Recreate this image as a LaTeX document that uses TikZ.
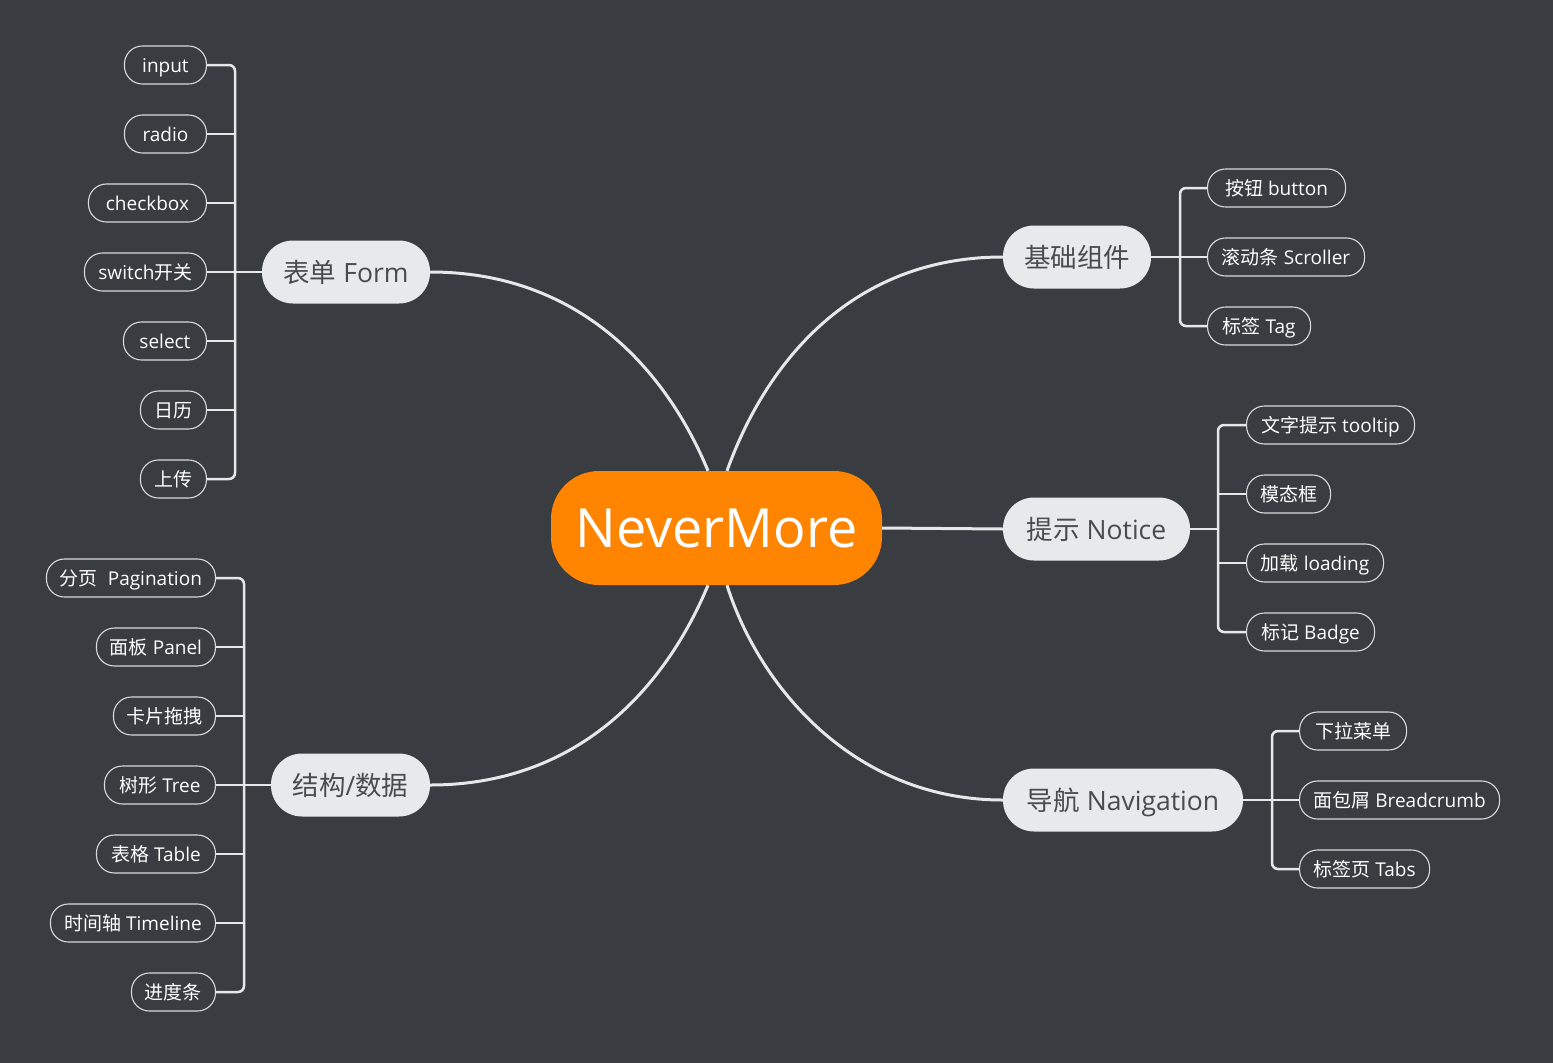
\documentclass[tikz,border=0pt]{standalone}
\usepackage{fontspec}
\setmainfont{Open Sans}
\newfontfamily\cjk{Noto Sans CJK SC}
\usetikzlibrary{calc}
\newcommand\zh[1]{{\cjk #1}}
\definecolor{bgcol}{HTML}{393C41}
\definecolor{orangecol}{HTML}{FF8400}
\definecolor{mainfill}{HTML}{E8E9EB}
\definecolor{maintext}{HTML}{4A4B4E}
\definecolor{linecol}{HTML}{E6E7E9}
\definecolor{leafline}{HTML}{D9DADC}
\tikzset{
  leaf/.style={draw=leafline, line width=1.1pt, rounded corners=18pt, minimum height=38pt,
    inner xsep=8pt, inner ysep=0pt, text=white, font=\fontsize{19}{21}\selectfont,
    text height=17.5pt, text depth=2pt},
  mainnode/.style={fill=mainfill, rounded corners=31pt, minimum height=63pt, inner xsep=10pt,
    inner ysep=0pt, text=maintext, font=\fontsize{26.5}{30}\selectfont,
    text height=25pt, text depth=3.5pt},
  centernode/.style={fill=orangecol, rounded corners=48pt, minimum width=331pt, minimum height=114pt,
    inner sep=0pt, text=white, font=\fontsize{54}{60}\selectfont, text height=44pt, text depth=6pt},
  curvecon/.style={draw=linecol, line width=3pt},
  leafcon/.style={draw=linecol, line width=2.5pt, rounded corners=6pt},
}
\begin{document}
\begin{tikzpicture}[x=1pt,y=-1pt]
\fill[bgcol] (0,0) rectangle (1553,1063);
\useasboundingbox (0,0) rectangle (1553,1063);

% center
\node[centernode] (c) at (716.5,528) {NeverMore};

% main nodes
\node[mainnode, minimum width=168pt] (form) at (346,272) {\zh{表单} Form};
\node[mainnode, minimum width=159pt] (struct) at (350.5,785) {\zh{结构}/\zh{数据}};
\node[mainnode, minimum width=148pt] (base) at (1077,257) {\zh{基础组件}};
\node[mainnode, minimum width=187pt] (notice) at (1096.5,529) {\zh{提示} Notice};
\node[mainnode, minimum width=240pt] (nav) at (1123,800) {\zh{导航} Navigation};

% Form leaves
\node[leaf, anchor=east, minimum width=82pt] (f1) at (207,65) {input};
\node[leaf, anchor=east, minimum width=82pt] (f2) at (207,134) {radio};
\node[leaf, anchor=east, minimum width=118pt] (f3) at (207,203) {checkbox};
\node[leaf, anchor=east, minimum width=122pt] (f4) at (207,272) {switch\zh{开关}};
\node[leaf, anchor=east, minimum width=83pt] (f5) at (207,341) {select};
\node[leaf, anchor=east, minimum width=66pt] (f6) at (207,410) {\zh{日历}};
\node[leaf, anchor=east, minimum width=66pt] (f7) at (207,479) {\zh{上传}};
\coordinate (ft) at (235,272);

% Structure leaves
\node[leaf, anchor=east, minimum width=169pt] (s1) at (216,578) {\zh{分页}\ \ Pagination};
\node[leaf, anchor=east, minimum width=119pt] (s2) at (216,647) {\zh{面板} Panel};
\node[leaf, anchor=east, minimum width=102pt] (s3) at (216,716) {\zh{卡片拖拽}};
\node[leaf, anchor=east, minimum width=111pt] (s4) at (216,785) {\zh{树形} Tree};
\node[leaf, anchor=east, minimum width=119pt] (s5) at (216,854) {\zh{表格} Table};
\node[leaf, anchor=east, minimum width=165pt] (s6) at (216,923) {\zh{时间轴} Timeline};
\node[leaf, anchor=east, minimum width=84pt] (s7) at (216,992) {\zh{进度条}};
\coordinate (st) at (244,785);

% Base leaves
\node[leaf, anchor=west, minimum width=138pt] (b1) at (1207,188) {\zh{按钮} button};
\node[leaf, anchor=west, minimum width=157pt] (b2) at (1207,257) {\zh{滚动条} Scroller};
\node[leaf, anchor=west, minimum width=103pt] (b3) at (1207,326) {\zh{标签} Tag};
\coordinate (bt) at (1180,257);

% Notice leaves
\node[leaf, anchor=west, minimum width=168pt] (n1) at (1246,425) {\zh{文字提示} tooltip};
\node[leaf, anchor=west, minimum width=84pt] (n2) at (1246,494) {\zh{模态框}};
\node[leaf, anchor=west, minimum width=137pt] (n3) at (1246,563) {\zh{加载} loading};
\node[leaf, anchor=west, minimum width=128pt] (n4) at (1246,632) {\zh{标记} Badge};
\coordinate (nt) at (1218,529);

% Nav leaves
\node[leaf, anchor=west, minimum width=107pt] (v1) at (1299,731) {\zh{下拉菜单}};
\node[leaf, anchor=west, minimum width=200pt] (v2) at (1299,800) {\zh{面包屑} Breadcrumb};
\node[leaf, anchor=west, minimum width=130pt] (v3) at (1299,869) {\zh{标签页} Tabs};
\coordinate (vt) at (1272,800);

% curves from center
\draw[curvecon] ($(c.north)+(-8.5,0)$) .. controls ($(c.north)+(-50,-100)$) and ($(form.east)+(150,0)$) .. (form.east);
\draw[curvecon] ($(c.north)+(10.5,0)$) .. controls ($(c.north)+(50,-110)$) and ($(base.west)+(-150,0)$) .. (base.west);
\draw[curvecon] ($(c.south)+(-8.5,0)$) .. controls ($(c.south)+(-50,100)$) and ($(struct.east)+(150,0)$) .. (struct.east);
\draw[curvecon] ($(c.south)+(10.5,0)$) .. controls ($(c.south)+(42,100)$) and ($(nav.west)+(-150,0)$) .. (nav.west);
\draw[curvecon] (c.east) -- (notice.west);

% Form connectors
\draw[leafcon] (form.west) -- (ft);
\draw[leafcon] (f1.east) -| (ft);
\draw[leafcon] (f7.east) -| (ft);
\foreach \n in {f2,f3,f4,f5,f6} \draw[leafcon] (\n.east) -- (\n.east -| ft);

% Structure connectors
\draw[leafcon] (struct.west) -- (st);
\draw[leafcon] (s1.east) -| (st);
\draw[leafcon] (s7.east) -| (st);
\foreach \n in {s2,s3,s4,s5,s6} \draw[leafcon] (\n.east) -- (\n.east -| st);

% Base connectors
\draw[leafcon] (base.east) -- (bt);
\draw[leafcon] (b1.west) -| (bt);
\draw[leafcon] (b3.west) -| (bt);
\draw[leafcon] (b2.west) -- (b2.west -| bt);

% Notice connectors
\draw[leafcon] (notice.east) -- (nt);
\draw[leafcon] (n1.west) -| (nt);
\draw[leafcon] (n4.west) -| (nt);
\foreach \n in {n2,n3} \draw[leafcon] (\n.west) -- (\n.west -| nt);

% Nav connectors
\draw[leafcon] (nav.east) -- (vt);
\draw[leafcon] (v1.west) -| (vt);
\draw[leafcon] (v3.west) -| (vt);
\draw[leafcon] (v2.west) -- (v2.west -| vt);
\end{tikzpicture}
\end{document}
